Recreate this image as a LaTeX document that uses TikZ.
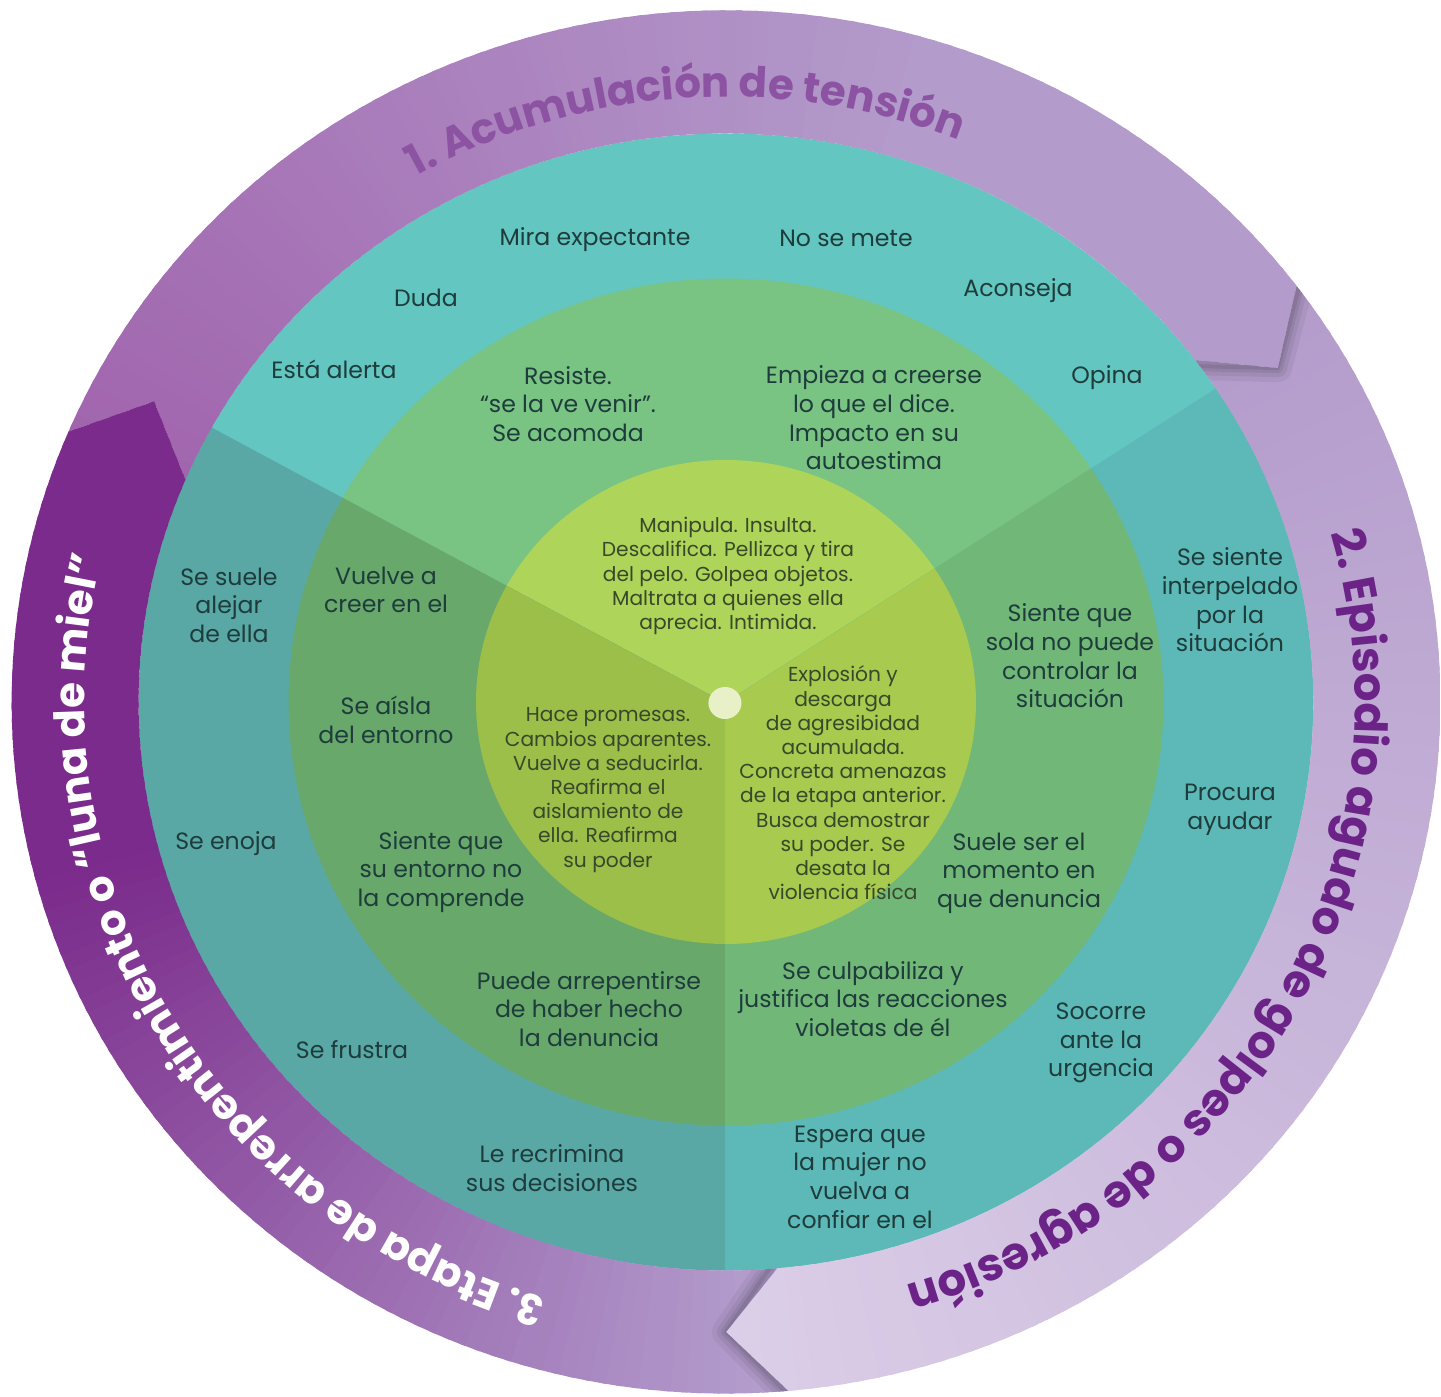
\documentclass[tikz,border=0pt]{standalone}
\usepackage{fontspec}
\setmainfont{Poppins}
\usepackage{xcolor}
\definecolor{tealT}{HTML}{64C6C1}
\definecolor{tealR}{HTML}{5CB9B7}
\definecolor{tealL}{HTML}{59A8A6}
\definecolor{grnT}{HTML}{79C482}
\definecolor{grnR}{HTML}{71B878}
\definecolor{grnL}{HTML}{68A86B}
\definecolor{yelT}{HTML}{AED45A}
\definecolor{yelR}{HTML}{A7CA4F}
\definecolor{yelL}{HTML}{9CBF4A}
\definecolor{dotc}{HTML}{E8F0C8}
\definecolor{purA}{HTML}{A165AE}
\definecolor{purB}{HTML}{B39BCB}
\definecolor{purC}{HTML}{DCCFE8}
\definecolor{purD}{HTML}{B5A0CF}
\definecolor{purE}{HTML}{7B2B8B}
\definecolor{txtc}{HTML}{1E3C3B}
\definecolor{coretxt}{HTML}{38482A}
\definecolor{labA}{HTML}{8C53A2}
\definecolor{labB}{HTML}{6C2388}
\usetikzlibrary{decorations.text}

% ring radii (outer, inner, tip) and disc radii
\newcommand{\Ro}{691.5}
\newcommand{\Ri}{568.5}
\newcommand{\Rm}{630}
\newcommand{\Rg}{423.5}
\newcommand{\Ry}{242}
\newcommand{\ringfont}{\fontsize{21}{21}\selectfont\bfseries}

% one arrow piece of the ring: tail base/tip, head base/tip
\newcommand{\clipseg}[4]{\clip (#1:\Ro) arc[start angle=#1, end angle=#3, radius=\Ro] -- (#4:\Rm) -- (#3:\Ri) arc[start angle=#3, end angle=#1, radius=\Ri] -- (#2:\Rm) -- cycle;}
\newcommand{\ringseg}[7]{%
  \begin{scope}
    \clipseg{#1}{#2}{#3}{#4}
    \foreach \k in {0,...,95} {
      \pgfmathsetmacro{\angA}{#1+1-(#1-(#4)+2)*\k/96}
      \pgfmathsetmacro{\angB}{\angA-(#1-(#4)+2)/96-0.5}
      \pgfmathtruncatemacro{\mixp}{min(100,100*#7*\k/95)}
      \fill[#6!\mixp!#5] (0,0) -- (\angA:740) arc[start angle=\angA, end angle=\angB, radius=740] -- cycle;
    }
  \end{scope}}
\newcommand{\tipshadow}[6]{%
  \begin{scope}
    \clipseg{#1}{#2}{#3}{#4}
    \foreach \lw/\op in {14/0.05, 9/0.06, 5/0.07, 2/0.08}
      \draw[line width=\lw pt, black, opacity=\op, line join=round] (#5+1:\Ro+20) -- (#6:\Rm) -- (#5:\Ri-10);
  \end{scope}}

\begin{document}
\begin{tikzpicture}[x=0.5pt, y=0.5pt,
  lbl/.style={align=center, text=txtc, inner sep=0pt, font=\fontsize{11.8}{14.3}\selectfont},
  inlbl/.style={align=center, text=coretxt, inner sep=0pt, font=\fontsize{10.1}{12.1}\selectfont}]

  % page
  \fill[white] (-726,-695) rectangle (715,702);
  \useasboundingbox (-726,-695) rectangle (715,702);

  \begin{scope}[xscale=1.033]
    % discs, upper sector
    \fill[tealT] (0,0) circle[radius=\Ri];
    \fill[grnT] (0,0) circle[radius=\Rg];
    \fill[yelT] (0,0) circle[radius=\Ry];

    % right sector
    \begin{scope}
      \clip (-1,-1) -- ++(33.5:1300) -- (1200,-1000) -- (-1,-1000) -- cycle;
      \fill[tealR] (0,0) circle[radius=\Ri];
      \fill[grnR] (0,0) circle[radius=\Rg];
      \fill[yelR] (0,0) circle[radius=\Ry];
    \end{scope}

    % left sector
    \begin{scope}
      \clip (-1,-1) -- ++(151:1300) -- (-1200,-1000) -- (-1,-1000) -- cycle;
      \fill[tealL] (0,0) circle[radius=\Ri];
      \fill[grnL] (0,0) circle[radius=\Rg];
      \fill[yelL] (0,0) circle[radius=\Ry];
    \end{scope}

    \fill[dotc] (-1,-1) circle[radius=16];

    % the three arrows of the cycle
    \ringseg{157}{151.5}{37}{32}{purA}{purB}{1.5}
    \ringseg{37}{32}{-85}{-90}{purB}{purC}{1}
    \ringseg{275}{270}{157}{151.5}{purD}{purE}{1.55}
    \tipshadow{37}{32}{-85}{-90}{37}{32}
    \tipshadow{275}{270}{157}{151.5}{275}{270}

    % stage names
    \path[decorate, decoration={text along path, text align=center, text color=labA,
      text={|\ringfont|1. Acumulación de tensión}}]
      (144:605) arc[start angle=144, end angle=44, radius=605];
    \path[decorate, decoration={text along path, text align=center, text color=labB,
      text={|\fontsize{22.6}{22.6}\selectfont\bfseries|2. Episodio agudo de golpes o de agresión}}]
      (32:609) arc[start angle=32, end angle=-89, radius=609];
    \path[decorate, decoration={text along path, text align=center, text color=white,
      text={|\ringfont|3. Etapa de arrepentimiento o “luna de miel”}}]
      (265:621) arc[start angle=265, end angle=155, radius=621];
  \end{scope}

  % outer ring texts
  \node[lbl] (mira) at (-131,462) {Mira expectante};
  \node[lbl] (nomete) at (120,464) {No se mete};
  \node[lbl] (duda) at (-300,404) {Duda};
  \node[lbl] (aconseja) at (292,411) {Aconseja};
  \node[lbl] (alerta) at (-392,333) {Está alerta};
  \node[lbl] (opina) at (381,324) {Opina};
  \node[lbl] (suele) at (-497,97) {Se suele\\alejar\\de ella};
  \node[lbl] (enoja) at (-500,-142) {Se enoja};
  \node[lbl] (frustra) at (-374,-348) {Se frustra};
  \node[lbl] (recrimina) at (-174,-466) {Le recrimina\\sus decisiones};
  \node[lbl] (interpela) at (504,102) {Se siente\\interpelado\\por la\\situación};
  \node[lbl] (procura) at (504,-108) {Procura\\ayudar};
  \node[lbl] (socorre) at (375,-341) {Socorre\\ante la\\urgencia};
  \node[lbl] (espera) at (134,-475) {Espera que\\la mujer no\\vuelva a\\confiar en el};

  % middle ring texts
  \node[lbl] (resiste) at (-158,298) {Resiste.\\“se la ve venir”.\\Se acomoda};
  \node[lbl] (empieza) at (148,284) {Empieza a creerse\\lo que el dice.\\Impacto en su\\autoestima};
  \node[lbl] (vuelve) at (-340,112) {Vuelve a\\creer en el};
  \node[lbl] (aisla) at (-340,-18) {Se aísla\\del entorno};
  \node[lbl] (entorno) at (-285,-170) {Siente que\\su entorno no\\la comprende};
  \node[lbl] (arrepiente) at (-137,-307) {Puede arrepentirse\\de haber hecho\\la denuncia};
  \node[lbl] (sola) at (344,46) {Siente que\\sola no puede\\controlar la\\situación};
  \node[lbl] (denuncia) at (293,-171) {Suele ser el\\momento en\\que denuncia};
  \node[lbl] (culpa) at (147,-297) {Se culpabiliza y\\justifica las reacciones\\violetas de él};

  % core texts
  \node[inlbl] (manipula) at (2,126) {Manipula. Insulta.\\Descalifica. Pellizca y tira\\del pelo. Golpea objetos.\\Maltrata a quienes ella\\aprecia. Intimida.};
  \node[inlbl] (promesas) at (-118,-88) {Hace promesas.\\Cambios aparentes.\\Vuelve a seducirla.\\Reafirma el\\aislamiento de\\ella. Reafirma\\su poder};
  \node[inlbl] (explosion) at (117,-81) {Explosión y\\descarga\\de agresibidad\\acumulada.\\Concreta amenazas\\de la etapa anterior.\\Busca demostrar\\su poder. Se\\desata la\\violencia física};
\end{tikzpicture}
\end{document}
